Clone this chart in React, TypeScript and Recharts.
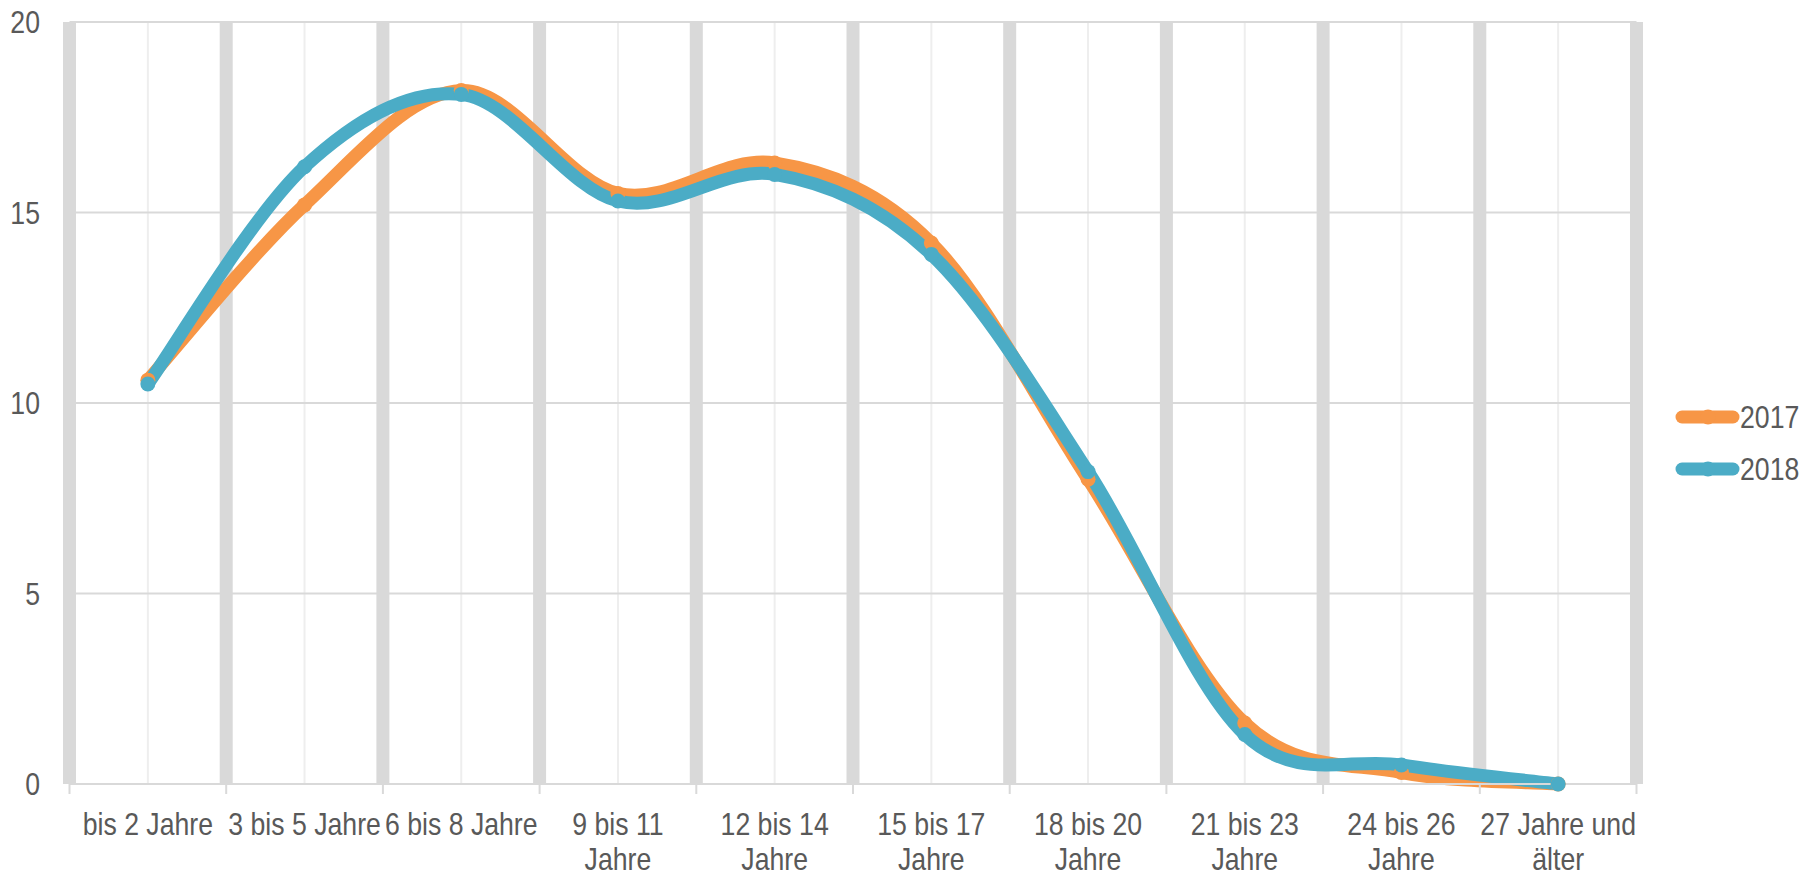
import { LineChart, Line, XAxis, YAxis, CartesianGrid, Legend, ReferenceLine } from 'recharts'

const categories = [
  'bis 2 Jahre',
  '3 bis 5 Jahre',
  '6 bis 8 Jahre',
  '9 bis 11\nJahre',
  '12 bis 14\nJahre',
  '15 bis 17\nJahre',
  '18 bis 20\nJahre',
  '21 bis 23\nJahre',
  '24 bis 26\nJahre',
  '27 Jahre und\nälter',
]
const values2017 = [10.6, 15.2, 18.2, 15.5, 16.3, 14.2, 8.0, 1.6, 0.3, 0.0]
const values2018 = [10.5, 16.2, 18.1, 15.3, 16.0, 13.9, 8.2, 1.3, 0.5, 0.0]
const yTicks = [0, 5, 10, 15, 20]

const data = categories.map((label, i) => ({ i, label, v2017: values2017[i], v2018: values2018[i] }))
const centerTicks = categories.map((_, i) => i)
const edgeTicks = [...categories.map((_, i) => i - 0.5), categories.length - 0.5]
const xDomain = [-0.5, categories.length - 0.5]

// no narrow font installed, so squeeze Liberation Sans horizontally
const FONT = '"Liberation Sans", Arial, sans-serif'
const SX = 0.86
const TEXT = '#595959'
const GRID = '#d9d9d9'

// smoothed line like excel's (catmull-rom through the points)
function excelSmooth(context: any) {
  let pts: number[][] = []
  return {
    areaStart() {},
    areaEnd() {},
    lineStart() {
      pts = []
    },
    point(x: number, y: number) {
      pts.push([+x, +y])
    },
    lineEnd() {
      const n = pts.length
      if (!n) return
      context.moveTo(pts[0][0], pts[0][1])
      for (let k = 0; k < n - 1; k++) {
        const p0 = pts[Math.max(k - 1, 0)]
        const p1 = pts[k]
        const p2 = pts[k + 1]
        const p3 = pts[Math.min(k + 2, n - 1)]
        context.bezierCurveTo(
          p1[0] + (p2[0] - p0[0]) / 6,
          p1[1] + (p2[1] - p0[1]) / 6,
          p2[0] - (p3[0] - p1[0]) / 6,
          p2[1] - (p3[1] - p1[1]) / 6,
          p2[0],
          p2[1]
        )
      }
    },
  }
}

// label at the category centre, tick marks on the category edges
function CategoryTick({ x, y, payload, width }: any) {
  const lines = categories[payload.value].split('\n')
  const half = width / categories.length / 2
  const last = payload.value === categories.length - 1
  return (
    <g>
      {Number.isFinite(half) && (
        <line x1={x - half} x2={x - half} y1={y} y2={y + 10} stroke={GRID} strokeWidth={2} />
      )}
      {Number.isFinite(half) && last && (
        <line x1={x + half} x2={x + half} y1={y} y2={y + 10} stroke={GRID} strokeWidth={2} />
      )}
      <text
        transform={`translate(${x},${y}) scale(${SX},1)`}
        textAnchor="middle"
        fill={TEXT}
        fontFamily={FONT}
        fontSize={31}
      >
        {lines.map((l, k) => (
          <tspan key={k} x={0} dy={k === 0 ? 51 : 35}>
            {l}
          </tspan>
        ))}
      </text>
    </g>
  )
}

function ValueTick({ x, y, payload }: any) {
  return (
    <text
      transform={`translate(${x},${y}) scale(${SX},1)`}
      textAnchor="end"
      dy="0.36em"
      fill={TEXT}
      fontFamily={FONT}
      fontSize={31}
    >
      {payload.value}
    </text>
  )
}

function LegendContent({ payload }: any) {
  return (
    <div>
      {(payload || []).map((item: any) => (
        <div key={item.value} style={{ display: 'flex', alignItems: 'center', height: 52 }}>
          <svg width={65} height={20} style={{ display: 'block' }}>
            <line x1={7} x2={58} y1={10} y2={10} stroke={item.color} strokeWidth={13} strokeLinecap="round" />
            <circle cx={33} cy={10} r={7.5} fill={item.color} />
          </svg>
          <span
            style={{
              display: 'inline-block',
              fontFamily: FONT,
              fontSize: 31,
              color: TEXT,
              lineHeight: '31px',
              transform: `scaleX(${SX})`,
              transformOrigin: 'left center',
            }}
          >
            {item.value}
          </span>
        </div>
      ))}
    </div>
  )
}

export default function App() {
  return (
    <div style={{ position: 'absolute', left: 0, top: 0, background: '#fff' }}>
      <LineChart width={1814} height={872} data={data} margin={{ top: 22, right: 177.5, left: 0, bottom: 0 }}>
        <CartesianGrid horizontal={false} stroke="#eeeeee" strokeWidth={2} />
        <CartesianGrid vertical={false} stroke={GRID} strokeWidth={2} />
        <XAxis
          type="number"
          dataKey="i"
          domain={xDomain}
          ticks={centerTicks}
          interval={0}
          tick={<CategoryTick />}
          tickLine={false}
          axisLine={{ stroke: GRID, strokeWidth: 2 }}
          tickSize={0}
          tickMargin={0}
          height={88}
        />
        <YAxis
          domain={[0, 20]}
          ticks={yTicks}
          width={69.5}
          axisLine={false}
          tickLine={false}
          tickSize={0}
          tickMargin={29.5}
          tick={<ValueTick />}
        />
        {edgeTicks.map((e) => (
          <ReferenceLine key={e} x={e} stroke={GRID} strokeWidth={13} ifOverflow="visible" zIndex={-50} />
        ))}
        <Legend
          layout="vertical"
          align="center"
          verticalAlign="middle"
          content={<LegendContent />}
          wrapperStyle={{ left: 1675, top: 391, width: 139 }}
        />
        <Line
          name="2017"
          dataKey="v2017"
          type={excelSmooth as any}
          stroke="#f79646"
          strokeWidth={13}
          dot={{ r: 7.5, fill: '#f79646', strokeWidth: 0 }}
          activeDot={false}
          isAnimationActive={false}
        />
        <Line
          name="2018"
          dataKey="v2018"
          type={excelSmooth as any}
          stroke="#4bacc6"
          strokeWidth={13}
          dot={{ r: 7.5, fill: '#4bacc6', strokeWidth: 0 }}
          activeDot={false}
          isAnimationActive={false}
        />
      </LineChart>
    </div>
  )
}
